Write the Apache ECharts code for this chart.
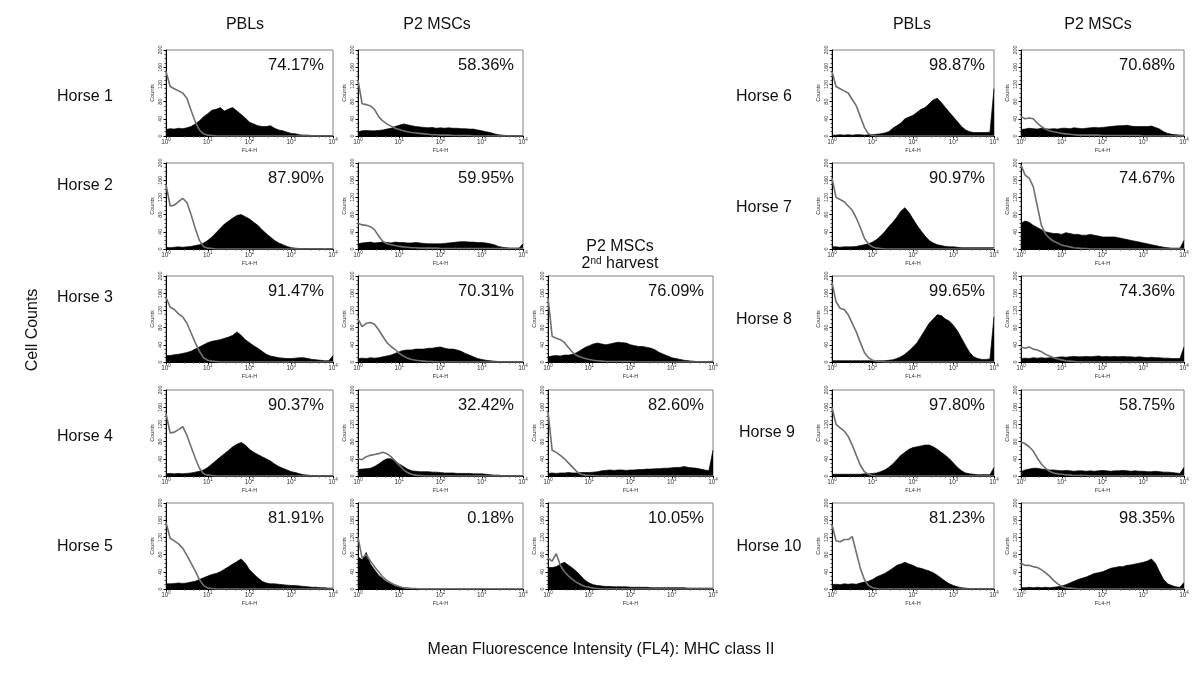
<!DOCTYPE html>
<html><head><meta charset="utf-8">
<script src="https://cdn.jsdelivr.net/npm/echarts@6/dist/echarts.min.js"></script>
<style>html,body{margin:0;padding:0;background:#fff}#chart{width:1200px;height:678px}</style>
</head><body><div id="chart"></div>
<script>
// ---------- DATA ----------
// Histogram channels: FL4-H at 10^(k/10), k = 0..40 (log bins)
const binCount = 41;
const xTickExponents = [0, 1, 2, 3, 4];
const yTicks = [0, 40, 80, 120, 160, 200];

// counts of MHC II stained cells (black) and isotype control (grey line)
const h1PblStain = [15,17,16,18,17,19,22,28,35,45,52,60,62,66,58,63,66,58,50,42,32,28,24,22,22,24,18,14,12,9,6,5,3,2,2,1,1,1,1,1,1];
const h1PblIso   = [150,115,110,105,100,88,60,33,14,5,2,1,0,0,0,0,0,0,0,0,0,0,0,0,0,0,0,0,0,0,0,0,0,0,0,0,0,0,0,0,0];
const h1MscStain = [10,12,13,12,12,13,14,16,18,22,25,28,26,24,22,21,20,19,20,18,19,18,19,18,18,17,17,16,16,14,12,10,8,5,3,2,1,1,1,1,1];
const h1MscIso   = [130,75,73,70,62,45,35,28,23,18,15,12,10,8,7,6,5,4,3,3,2,2,2,1,1,1,1,1,0,0,0,0,0,0,0,0,0,0,0,0,0];
const h2PblStain = [4,3,4,5,4,5,6,8,10,14,20,28,38,48,58,65,72,78,80,75,70,62,55,45,36,28,20,14,10,6,3,2,1,1,1,1,1,1,0,1,1];
const h2PblIso   = [150,100,102,110,118,108,80,48,20,6,2,1,0,0,0,0,0,0,0,0,0,0,0,0,0,0,0,0,0,0,0,0,0,0,0,0,0,0,0,0,0];
const h2MscStain = [12,14,15,16,14,15,16,15,14,16,15,15,14,14,15,14,13,12,12,12,12,13,14,15,16,17,17,16,16,15,15,14,12,10,6,4,3,2,2,2,12];
const h2MscIso   = [60,56,55,52,45,30,18,12,10,8,6,5,4,3,3,2,2,2,2,2,1,1,1,1,1,1,1,1,1,1,1,1,1,1,1,1,1,1,1,1,1];
const h3PblStain = [15,15,17,18,20,22,25,30,35,40,45,48,50,52,55,58,62,70,62,52,45,38,32,25,18,14,12,10,9,8,8,9,10,10,8,6,5,4,3,3,15];
const h3PblIso   = [150,128,122,112,105,90,68,45,25,10,4,2,1,0,0,0,0,0,0,0,0,0,0,0,0,0,0,0,0,0,0,0,0,0,0,0,0,0,0,0,0];
const h3MscStain = [8,9,8,10,9,10,12,14,16,20,24,27,28,28,30,30,30,32,32,34,35,32,30,30,28,25,20,16,12,8,6,4,3,2,1,1,1,1,1,1,1];
const h3MscIso   = [100,82,90,92,88,75,60,45,36,29,20,14,9,6,4,3,2,1,1,0,0,0,0,0,0,0,0,0,0,0,0,0,0,0,0,0,0,0,0,0,0];
const h3Msc2Stain = [12,14,15,14,16,16,18,22,28,34,38,42,44,42,40,42,44,46,45,44,40,38,36,36,34,32,28,22,18,14,10,8,6,4,3,2,1,1,1,1,2];
const h3Msc2Iso   = [150,60,55,52,45,33,22,15,11,8,6,4,3,2,1,1,1,1,1,1,1,0,0,0,0,0,0,0,0,0,0,0,0,0,0,0,0,0,0,0,0];
const h4PblStain = [5,6,5,6,5,6,7,9,11,14,20,28,36,44,52,60,68,74,78,72,62,55,50,45,40,35,28,22,18,14,10,8,5,3,2,1,1,1,1,1,1];
const h4PblIso   = [145,100,102,108,115,95,68,42,18,5,2,1,0,0,0,0,0,0,0,0,0,0,0,0,0,0,0,0,0,0,0,0,0,0,0,0,0,0,0,0,0];
const h4MscStain = [15,16,17,18,22,28,35,40,40,35,28,22,16,12,11,10,10,10,9,9,8,7,7,7,6,6,6,6,5,5,5,4,3,2,2,1,1,1,1,1,1];
const h4MscIso   = [40,38,45,48,50,52,55,52,45,35,25,15,8,4,2,1,0,0,0,0,0,0,0,0,0,0,0,0,0,0,0,0,0,0,0,0,0,0,0,0,0];
const h4Msc2Stain = [6,7,6,7,7,8,7,7,8,8,8,9,10,12,13,14,13,14,14,13,14,14,15,15,16,16,17,17,18,18,19,20,20,22,20,19,18,16,14,12,60];
const h4Msc2Iso   = [150,60,55,48,40,30,20,10,4,2,1,1,0,0,0,0,0,0,0,0,0,0,0,0,0,0,0,0,0,0,0,0,0,0,0,0,0,0,0,0,0];
const h5PblStain = [12,12,13,14,13,14,16,18,22,26,30,34,36,40,46,52,58,64,70,60,45,35,26,18,14,12,12,11,10,9,8,8,7,6,5,4,4,3,3,2,2];
const h5PblIso   = [155,118,112,105,95,78,60,42,22,8,2,1,0,0,0,0,0,0,0,0,0,0,0,0,0,0,0,0,0,0,0,0,0,0,0,0,0,0,0,0,0];
const h5MscStain = [75,68,85,58,45,32,24,16,12,8,5,3,2,1,1,0,0,0,0,0,0,0,0,0,0,0,0,0,0,0,0,0,0,0,0,0,0,0,0,0,0];
const h5MscIso   = [120,72,80,65,52,40,28,20,14,9,6,3,2,1,1,0,0,0,0,0,0,0,0,0,0,0,0,0,0,0,0,0,0,0,0,0,0,0,0,0,0];
const h5Msc2Stain = [50,50,52,58,62,55,48,40,30,20,14,10,8,7,6,6,5,5,5,5,4,4,4,4,4,3,3,3,3,3,3,3,3,3,2,2,2,2,2,2,2];
const h5Msc2Iso   = [72,65,82,55,40,30,22,15,10,6,4,2,1,0,0,0,0,0,0,0,0,0,0,0,0,0,0,0,0,0,0,0,0,0,0,0,0,0,0,0,0];
const h6PblStain = [2,2,3,2,3,2,3,3,2,3,3,4,5,7,10,18,24,30,40,44,48,55,62,66,75,84,88,78,66,55,44,33,22,14,10,8,8,8,8,9,110];
const h6PblIso   = [150,115,110,105,100,85,70,45,20,5,1,0,0,0,0,0,0,0,0,0,0,0,0,0,0,0,0,0,0,0,0,0,0,0,0,0,0,0,0,0,0];
const h6MscStain = [15,16,18,17,16,18,17,16,17,16,18,18,17,19,18,17,18,19,20,19,20,21,22,23,24,24,25,23,22,22,22,22,23,20,16,10,6,4,3,2,2];
const h6MscIso   = [45,40,42,40,30,22,16,12,10,8,6,5,4,3,2,2,2,2,2,2,1,1,1,1,1,1,1,1,1,1,0,0,0,0,0,0,0,0,0,0,0];
const h7PblStain = [5,5,4,5,5,5,6,8,10,12,16,22,30,40,52,62,74,88,96,85,70,55,42,30,20,14,10,8,6,5,5,4,3,3,3,3,3,3,3,3,3];
const h7PblIso   = [165,120,115,110,100,90,72,50,25,12,5,2,1,0,0,0,0,0,0,0,0,0,0,0,0,0,0,0,0,0,0,0,0,0,0,0,0,0,0,0,0];
const h7MscStain = [60,65,62,55,50,45,40,38,36,36,34,38,36,34,34,32,32,34,32,30,28,28,28,28,26,24,22,20,18,16,14,12,10,8,6,4,3,2,2,2,20];
const h7MscIso   = [195,172,165,145,100,55,35,25,18,14,9,7,5,3,2,1,1,0,0,0,0,0,0,0,0,0,0,0,0,0,0,0,0,0,0,0,0,0,0,0,0];
const h8PblStain = [3,3,3,3,3,3,3,3,3,3,3,3,3,3,4,5,8,12,18,26,35,45,60,75,90,100,110,108,100,95,85,72,55,38,22,12,8,6,6,7,105];
const h8PblIso   = [185,140,125,122,110,90,70,45,22,10,4,2,1,0,0,0,0,0,0,0,0,0,0,0,0,0,0,0,0,0,0,0,0,0,0,0,0,0,0,0,0];
const h8MscStain = [8,9,8,10,9,10,9,10,10,11,12,11,12,13,12,12,13,12,13,14,12,13,12,13,12,13,12,12,11,12,11,10,11,10,10,9,9,8,8,8,35];
const h8MscIso   = [35,32,35,30,28,24,18,14,10,7,5,3,2,1,0,0,0,0,0,0,0,0,0,0,0,0,0,0,0,0,0,0,0,0,0,0,0,0,0,0,0];
const h9PblStain = [4,4,4,4,4,4,4,4,5,5,6,7,10,14,20,28,38,48,55,62,66,68,70,72,72,68,62,55,48,40,30,20,12,7,5,4,3,3,3,3,20];
const h9PblIso   = [160,120,112,105,92,72,48,25,10,4,1,0,0,0,0,0,0,0,0,0,0,0,0,0,0,0,0,0,0,0,0,0,0,0,0,0,0,0,0,0,0];
const h9MscStain = [10,14,16,18,18,16,15,14,14,13,12,13,12,11,12,12,11,12,11,12,13,12,11,12,12,13,12,11,12,11,11,10,10,11,10,9,9,8,7,6,20];
const h9MscIso   = [80,75,68,58,42,28,18,11,7,5,4,3,2,1,1,1,1,0,0,0,0,0,0,0,0,0,0,0,0,0,0,0,0,0,0,0,0,0,0,0,0];
const h10PblStain = [10,11,10,12,11,12,11,14,16,18,22,28,32,36,42,48,55,58,62,58,55,50,48,45,42,38,32,25,18,12,8,5,3,2,1,1,1,1,1,1,1];
const h10PblIso   = [150,112,110,115,115,122,85,48,22,8,3,1,0,0,0,0,0,0,0,0,0,0,0,0,0,0,0,0,0,0,0,0,0,0,0,0,0,0,0,0,0];
const h10MscStain = [3,3,4,3,4,3,4,3,4,5,7,10,14,18,22,25,28,32,36,38,40,44,48,50,52,52,55,56,58,60,62,65,70,60,40,22,12,8,5,4,15];
const h10MscIso   = [60,55,55,52,50,45,38,30,20,12,6,3,2,1,0,0,0,0,0,0,0,0,0,0,0,0,0,0,0,0,0,0,0,0,0,0,0,0,0,0,0];

const percentLabels = ['74.17%','58.36%','87.90%','59.95%','91.47%','70.31%','76.09%','90.37%','32.42%','82.60%','81.91%','0.18%','10.05%',
                       '98.87%','70.68%','90.97%','74.67%','99.65%','74.36%','97.80%','58.75%','81.23%','98.35%'];
const stainSeries = [h1PblStain,h1MscStain,h2PblStain,h2MscStain,h3PblStain,h3MscStain,h3Msc2Stain,h4PblStain,h4MscStain,h4Msc2Stain,h5PblStain,h5MscStain,h5Msc2Stain,
                     h6PblStain,h6MscStain,h7PblStain,h7MscStain,h8PblStain,h8MscStain,h9PblStain,h9MscStain,h10PblStain,h10MscStain];
const isoSeries = [h1PblIso,h1MscIso,h2PblIso,h2MscIso,h3PblIso,h3MscIso,h3Msc2Iso,h4PblIso,h4MscIso,h4Msc2Iso,h5PblIso,h5MscIso,h5Msc2Iso,
                   h6PblIso,h6MscIso,h7PblIso,h7MscIso,h8PblIso,h8MscIso,h9PblIso,h9MscIso,h10PblIso,h10MscIso];
// panel -> [row, column]
const panelRow = [0,0,1,1,2,2,2,3,3,3,4,4,4, 0,0,1,1,2,2,3,3,4,4];
const panelCol = [0,1,0,1,0,1,2,0,1,2,0,1,2, 3,4,3,4,3,4,3,4,3,4];
const horseLabels = ['Horse 1','Horse 2','Horse 3','Horse 4','Horse 5','Horse 6','Horse 7','Horse 8','Horse 9','Horse 10'];

// ---------- LAYOUT ----------
const colLeft = [166, 358, 548, 832, 1021];
const colWidth = [167, 165, 165, 162, 163];
const rowTop = [50, 163, 276, 390, 503];
const plotH = 86;
const horsePos = [[85,97],[85,186],[85,298],[85,437],[85,547],[764,97],[764,208],[764,320],[767,433],[769,547]];
const FONT = '"Liberation Sans", Arial, sans-serif';

const binValues = Array.from({length: binCount}, (_, k) => Math.pow(10, k / 10));
const toPairs = arr => arr.map((v, k) => [binValues[k], v]);

const grids = [], xAxes = [], yAxes = [], series = [], graphics = [];
percentLabels.forEach((pct, i) => {
  const left = colLeft[panelCol[i]], top = rowTop[panelRow[i]], w = colWidth[panelCol[i]];
  grids.push({left: left, top: top, width: w, height: plotH, show: true, borderColor: '#808080', borderWidth: 1, containLabel: false});
  xAxes.push({
    gridIndex: i, type: 'log', logBase: 10, min: Math.pow(10, xTickExponents[0]), max: Math.pow(10, xTickExponents[xTickExponents.length - 1]),
    name: 'FL4-H', nameLocation: 'middle', nameGap: 10,
    nameTextStyle: {fontSize: 5.5, color: '#333', fontFamily: FONT},
    axisLine: {show: true, onZero: false, lineStyle: {color: '#000', width: 1}},
    axisTick: {show: true, length: 2.5, lineStyle: {color: '#000'}},
    minorTick: {show: true, splitNumber: 5, length: 1.5, lineStyle: {color: '#444'}},
    splitLine: {show: false},
    axisLabel: {
      fontSize: 6.5, color: '#333', margin: 1, fontFamily: FONT, lineHeight: 10,
      formatter: v => '10{s|' + Math.round(Math.log10(v)) + '}',
      rich: {s: {fontSize: 4.5, verticalAlign: 'top', color: '#333', fontFamily: FONT}}
    }
  });
  yAxes.push({
    gridIndex: i, type: 'value', min: yTicks[0], max: yTicks[yTicks.length - 1], interval: yTicks[1] - yTicks[0],
    name: 'Counts', nameLocation: 'middle', nameGap: 11, nameRotate: 90,
    nameTextStyle: {fontSize: 5.5, color: '#333', fontFamily: FONT},
    axisLine: {show: true, lineStyle: {color: '#000', width: 1}},
    axisTick: {show: true, length: 2.5, lineStyle: {color: '#000'}},
    minorTick: {show: true, splitNumber: 4, length: 1.5, lineStyle: {color: '#444'}},
    splitLine: {show: false},
    axisLabel: {rotate: 90, fontSize: 5.5, color: '#333', margin: 2.5, fontFamily: FONT}
  });
  series.push({
    type: 'line', xAxisIndex: i, yAxisIndex: i, data: toPairs(stainSeries[i]), symbol: 'none', silent: true,
    lineStyle: {color: '#000', width: 0.7}, areaStyle: {color: '#000', opacity: 1, origin: 'start'}, z: 2
  });
  series.push({
    type: 'line', xAxisIndex: i, yAxisIndex: i, data: toPairs(isoSeries[i]), symbol: 'none', silent: true,
    lineStyle: {color: '#6f6f6f', width: 1.6}, z: 3
  });
  graphics.push({type: 'text', x: left + w - 9, y: top + 15, z: 10,
    style: {text: pct, font: '16.5px ' + FONT, fill: '#111', align: 'right', verticalAlign: 'middle'}});
});

const label = (text, x, y, size, extra) => Object.assign({type: 'text', x: x, y: y, z: 10,
  style: {text: text, font: size + 'px ' + FONT, fill: '#111', align: 'center', verticalAlign: 'middle'}}, extra || {});

horseLabels.forEach((h, i) => graphics.push(label(h, horsePos[i][0], horsePos[i][1], 16)));
graphics.push(label('PBLs', 245, 25, 16));
graphics.push(label('P2 MSCs', 437, 25, 16));
graphics.push(label('PBLs', 912, 25, 16));
graphics.push(label('P2 MSCs', 1098, 25, 16));
graphics.push(label('P2 MSCs', 620, 247, 16));
graphics.push({type: 'text', x: 620, y: 264, z: 10,
  style: {text: '2{s|nd} harvest', font: '16px ' + FONT, fill: '#111', align: 'center', verticalAlign: 'middle',
    rich: {s: {fontSize: 10, fontFamily: FONT, verticalAlign: 'top', fill: '#111'}}}});
graphics.push(label('Cell Counts', 33, 330, 16, {rotation: Math.PI / 2}));
graphics.push(label('Mean Fluorescence Intensity (FL4): MHC class II', 601, 650, 16));

const chart = echarts.init(document.getElementById('chart'), null, {renderer: 'canvas'});
chart.setOption({
  animation: false,
  backgroundColor: '#fff',
  grid: grids, xAxis: xAxes, yAxis: yAxes, series: series, graphic: graphics
});
</script></body></html>
